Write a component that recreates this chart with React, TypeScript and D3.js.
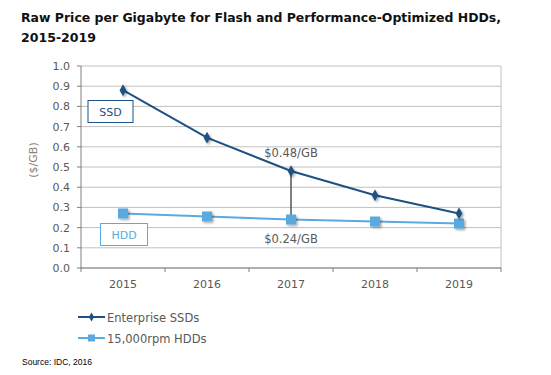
import React from "react";
import * as d3 from "d3";

const years = ["2015", "2016", "2017", "2018", "2019"];
const ssdValues = [0.88, 0.645, 0.48, 0.36, 0.27];
const hddValues = [0.27, 0.255, 0.24, 0.23, 0.22];
const yTicks = [0, 0.1, 0.2, 0.3, 0.4, 0.5, 0.6, 0.7, 0.8, 0.9, 1.0];
const seriesNames = ["Enterprise SSDs", "15,000rpm HDDs"];
const titleLines = ["Raw Price per Gigabyte for Flash and Performance-Optimized HDDs,", "2015-2019"];
const titleWidths = [480, 75];

const SSD_COLOR = "#1b5283";
const HDD_COLOR = "#5aaadf";
const FONT = "'DejaVu Sans', Verdana, sans-serif";

export default function App() {
  const W = 551, H = 375;
  const left = 81, right = 501, top = 66, bottom = 268;
  const x = d3.scaleBand<string>().domain(years).range([left, right]);
  const y = d3.scaleLinear().domain([0, 1]).range([bottom, top]);
  const cx = (yr: string) => (x(yr) as number) + x.bandwidth() / 2;
  const line = d3.line<number>().x((_, i) => cx(years[i])).y((d) => y(d));
  const diamond = d3.symbol().type(d3.symbolDiamond).size(40)();

  return (
    <svg width={W} height={H} style={{ position: "absolute", left: 0, top: 0, background: "#fff" }}>
      <defs>
        <filter id="sh" x="-50%" y="-50%" width="200%" height="200%">
          <feDropShadow dx="1.5" dy="1.5" stdDeviation="1" floodColor="#000" floodOpacity="0.35" />
        </filter>
      </defs>
      {titleLines.map((t, i) => (
        <text key={i} x={21} y={22 + i * 20} fontFamily={FONT} fontWeight="bold" fontSize={13} fill="#111"
          textLength={titleWidths[i]} lengthAdjust="spacingAndGlyphs" transform={`translate(0,0)`}
          style={{ fontSize: 13 }}>
          {t}
        </text>
      ))}
      {/* grid */}
      {yTicks.map((t) => (
        <line key={t} x1={left} x2={right} y1={y(t)} y2={y(t)} stroke="#c0c0c0" strokeWidth={1} />
      ))}
      <line x1={right} x2={right} y1={top} y2={bottom} stroke="#c0c0c0" />
      {/* y axis */}
      <line x1={left} x2={left} y1={top} y2={bottom + 1} stroke="#808080" />
      {yTicks.map((t) => (
        <g key={"yt" + t}>
          <line x1={left - 4} x2={left} y1={y(t)} y2={y(t)} stroke="#808080" />
          <text x={70} y={y(t) + 4} textAnchor="end" fontFamily={FONT} fontSize={11} fill="#595959">
            {t.toFixed(1)}
          </text>
        </g>
      ))}
      {/* x axis */}
      <line x1={left} x2={right} y1={bottom} y2={bottom} stroke="#808080" />
      {years.concat(["end"]).map((yr, i) => {
        const xx = left + i * x.bandwidth();
        return <line key={"xt" + i} x1={xx} x2={xx} y1={bottom} y2={bottom + 4} stroke="#808080" />;
      })}
      {years.map((yr) => (
        <text key={"xl" + yr} x={cx(yr)} y={288} textAnchor="middle" fontFamily={FONT} fontSize={11} fill="#595959">
          {yr}
        </text>
      ))}
      <text transform={`translate(37,160) rotate(-90)`} textAnchor="middle" fontFamily={FONT} fontSize={11} fill="#8c8276">
        ($/GB)
      </text>
      {/* annotation line */}
      <line x1={cx("2017")} x2={cx("2017")} y1={y(ssdValues[2])} y2={y(hddValues[2])} stroke="#555" strokeWidth={1.5} />
      {/* series */}
      <path d={line(hddValues) || ""} fill="none" stroke={HDD_COLOR} strokeWidth={2} />
      <path d={line(ssdValues) || ""} fill="none" stroke={SSD_COLOR} strokeWidth={2} />
      {hddValues.map((v, i) => (
        <rect key={"h" + i} x={cx(years[i]) - 5} y={y(v) - 5} width={10} height={10} fill={HDD_COLOR} filter="url(#sh)" />
      ))}
      {ssdValues.map((v, i) => (
        <path key={"s" + i} d={diamond || ""} transform={`translate(${cx(years[i])},${y(v)})`} fill={SSD_COLOR} filter="url(#sh)" />
      ))}
      {/* value labels */}
      <text x={cx("2017")} y={157} textAnchor="middle" fontFamily={FONT} fontSize={11.5} fill="#595959">
        $0.48/GB
      </text>
      <text x={cx("2017")} y={243} textAnchor="middle" fontFamily={FONT} fontSize={11.5} fill="#595959">
        $0.24/GB
      </text>
      {/* boxes */}
      <rect x={88} y={100.5} width={45} height={22} fill="#fff" stroke={SSD_COLOR} />
      <text x={110.5} y={116} textAnchor="middle" fontFamily={FONT} fontSize={11} fill={SSD_COLOR}>SSD</text>
      <rect x={100.5} y={223.5} width={47} height={22} fill="#fff" stroke={HDD_COLOR} />
      <text x={124} y={239} textAnchor="middle" fontFamily={FONT} fontSize={11} fill={HDD_COLOR}>HDD</text>
      {/* legend */}
      {seriesNames.map((n, i) => {
        const ly = 317 + i * 21;
        const col = i === 0 ? SSD_COLOR : HDD_COLOR;
        return (
          <g key={n}>
            <line x1={78} x2={105} y1={ly} y2={ly} stroke={col} strokeWidth={2} />
            {i === 0 ? (
              <path d={d3.symbol().type(d3.symbolDiamond).size(24)() || ""} transform={`translate(91.5,${ly})`} fill={col} />
            ) : (
              <rect x={88} y={ly - 3.5} width={7} height={7} fill={col} />
            )}
            <text x={107} y={ly + 4.5} fontFamily={FONT} fontSize={11.5} fill="#595959">{n}</text>
          </g>
        );
      })}
      <text x={22} y={365} fontFamily="'Liberation Sans', Arial, sans-serif" fontSize={8.5} fill="#000">
        Source: IDC, 2016
      </text>
    </svg>
  );
}
